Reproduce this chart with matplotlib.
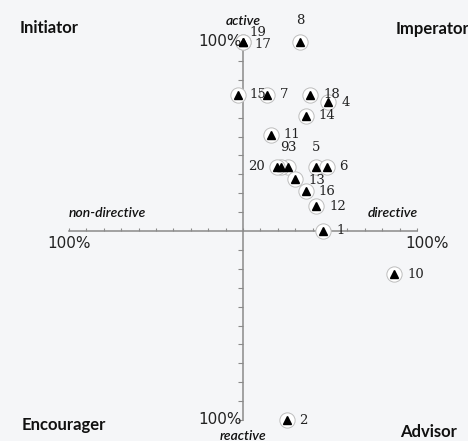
import numpy as np
import matplotlib
matplotlib.use("Agg")
import matplotlib.pyplot as plt

# ---- data (percent: x = non-directive(-) / directive(+), y = reactive(-) / active(+)) ----
ids = [1, 2, 3, 4, 5, 6, 7, 8, 9, 10, 11, 12, 13, 14, 15, 16, 17, 18, 19, 20]
xs = [46, 25, 26, 49, 42, 48, 14, 33, 22, 87, 16, 42, 30, 36, -3, 36, 0, 38.5, 0, 19.5]
ys = [0, -100, 34, 68, 34, 34, 72, 100, 34, -23, 51, 13, 27.5, 61, 72, 21, 100, 72, 100, 34]
quadrants = ["Initiator", "Imperator", "Encourager", "Advisor"]
axis_names = ["active", "reactive", "non-directive", "directive"]

# label offsets in pixels (dx, dy), dy positive = up
offsets = {1: (13, 0), 2: (13, 0), 3: (4, 19), 4: (13, 0), 5: (0, 19), 6: (13, 0),
           7: (13, 0), 8: (0, 21), 9: (3, 19), 10: (13, 0), 11: (13, 0), 12: (13, 0),
           13: (13, -1), 14: (13, 0), 15: (12, 0), 16: (13, 0), 17: (11, -3),
           18: (13, 0), 19: (6, 9), 20: (-12, 0)}
center_lbl = {3, 5, 8, 9}

W, H = 468, 441
fig = plt.figure(figsize=(W / 100, H / 100), dpi=100)
bg = "#f5f6f8"
fig.patch.set_facecolor(bg)
ax = fig.add_axes([0, 0, 1, 1])
ax.set_facecolor(bg)

# pixel mapping: origin at (243, 231); 174 px per 100% in x, 189 px per 100% in y
ox, oy, sx, sy = 243, 231, 1.74, 1.89
ax.set_xlim(-ox / sx, (W - ox) / sx)
ax.set_ylim(-(H - oy) / sy, oy / sy)

for s in ["top", "right"]:
    ax.spines[s].set_visible(False)
ax.spines["left"].set_position(("data", 0))
ax.spines["bottom"].set_position(("data", 0))
ax.spines["left"].set_bounds(-100, 100)
ax.spines["bottom"].set_bounds(-100, 100)
for s in ["left", "bottom"]:
    ax.spines[s].set_color("#8a8a8a")
    ax.spines[s].set_linewidth(1.1)
    ax.spines[s].set_zorder(1)
ax.set_xticks(np.arange(-100, 101, 10))
ax.set_yticks([t for t in np.arange(-100, 101, 10) if t != 0])
ax.tick_params(axis="x", direction="in", length=2.5, width=0.8, color="#8a8a8a", labelbottom=False)
ax.tick_params(axis="y", direction="out", length=3.5, width=0.8, color="#8a8a8a", labelleft=False)

# points
ax.plot(xs, ys, linestyle="none", marker="o", markersize=11, markerfacecolor="white",
        markeredgecolor="#bdbdbd", markeredgewidth=0.7, zorder=3)
ax.plot(xs, ys, linestyle="none", marker="^", markersize=5.5, color="black", zorder=4)

px = 0.72  # points per pixel
for i, x, y in zip(ids, xs, ys):
    dx, dy = offsets[i]
    ha = "center" if i in center_lbl else ("right" if dx < 0 else "left")
    ax.annotate(str(i), (x, y), xytext=(dx * px, dy * px), textcoords="offset points",
                ha=ha, va="center", fontsize=9.5, family="DejaVu Serif", color="#222222", zorder=5)

# percent labels
pct = dict(fontsize=11, family="DejaVu Sans", color="#222222")
ax.text(-100, -6.5, "100%", ha="center", va="center", **pct)
ax.text(106, -6.5, "100%", ha="center", va="center", **pct)
ax.text(-0.5, 100, "100%", ha="right", va="center", **pct)
ax.text(-0.5, -100, "100%", ha="right", va="center", **pct)

# axis names
it = dict(fontsize=10, family="Lato", style="italic", color="#111111", fontweight="semibold")
ax.text(0, 111, axis_names[0], ha="center", va="center", **it)
ax.text(0, -108.5, axis_names[1], ha="center", va="center", **it)
ax.text(-78, 9.5, axis_names[2], ha="center", va="center", **it)
ax.text(86, 9.5, axis_names[3], ha="center", va="center", **it)

# quadrant names
qd = dict(fontsize=12, family="Lato", fontweight="bold", color="#111111")
ax.text(-128.5, 107.5, quadrants[0], ha="left", va="center", **qd)
ax.text(87.5, 107, quadrants[1], ha="left", va="center", **qd)
ax.text(-127, -102.5, quadrants[2], ha="left", va="center", **qd)
ax.text(90, -106.5, quadrants[3], ha="left", va="center", **qd)

fig.savefig("out.png", dpi=100, facecolor=bg)
